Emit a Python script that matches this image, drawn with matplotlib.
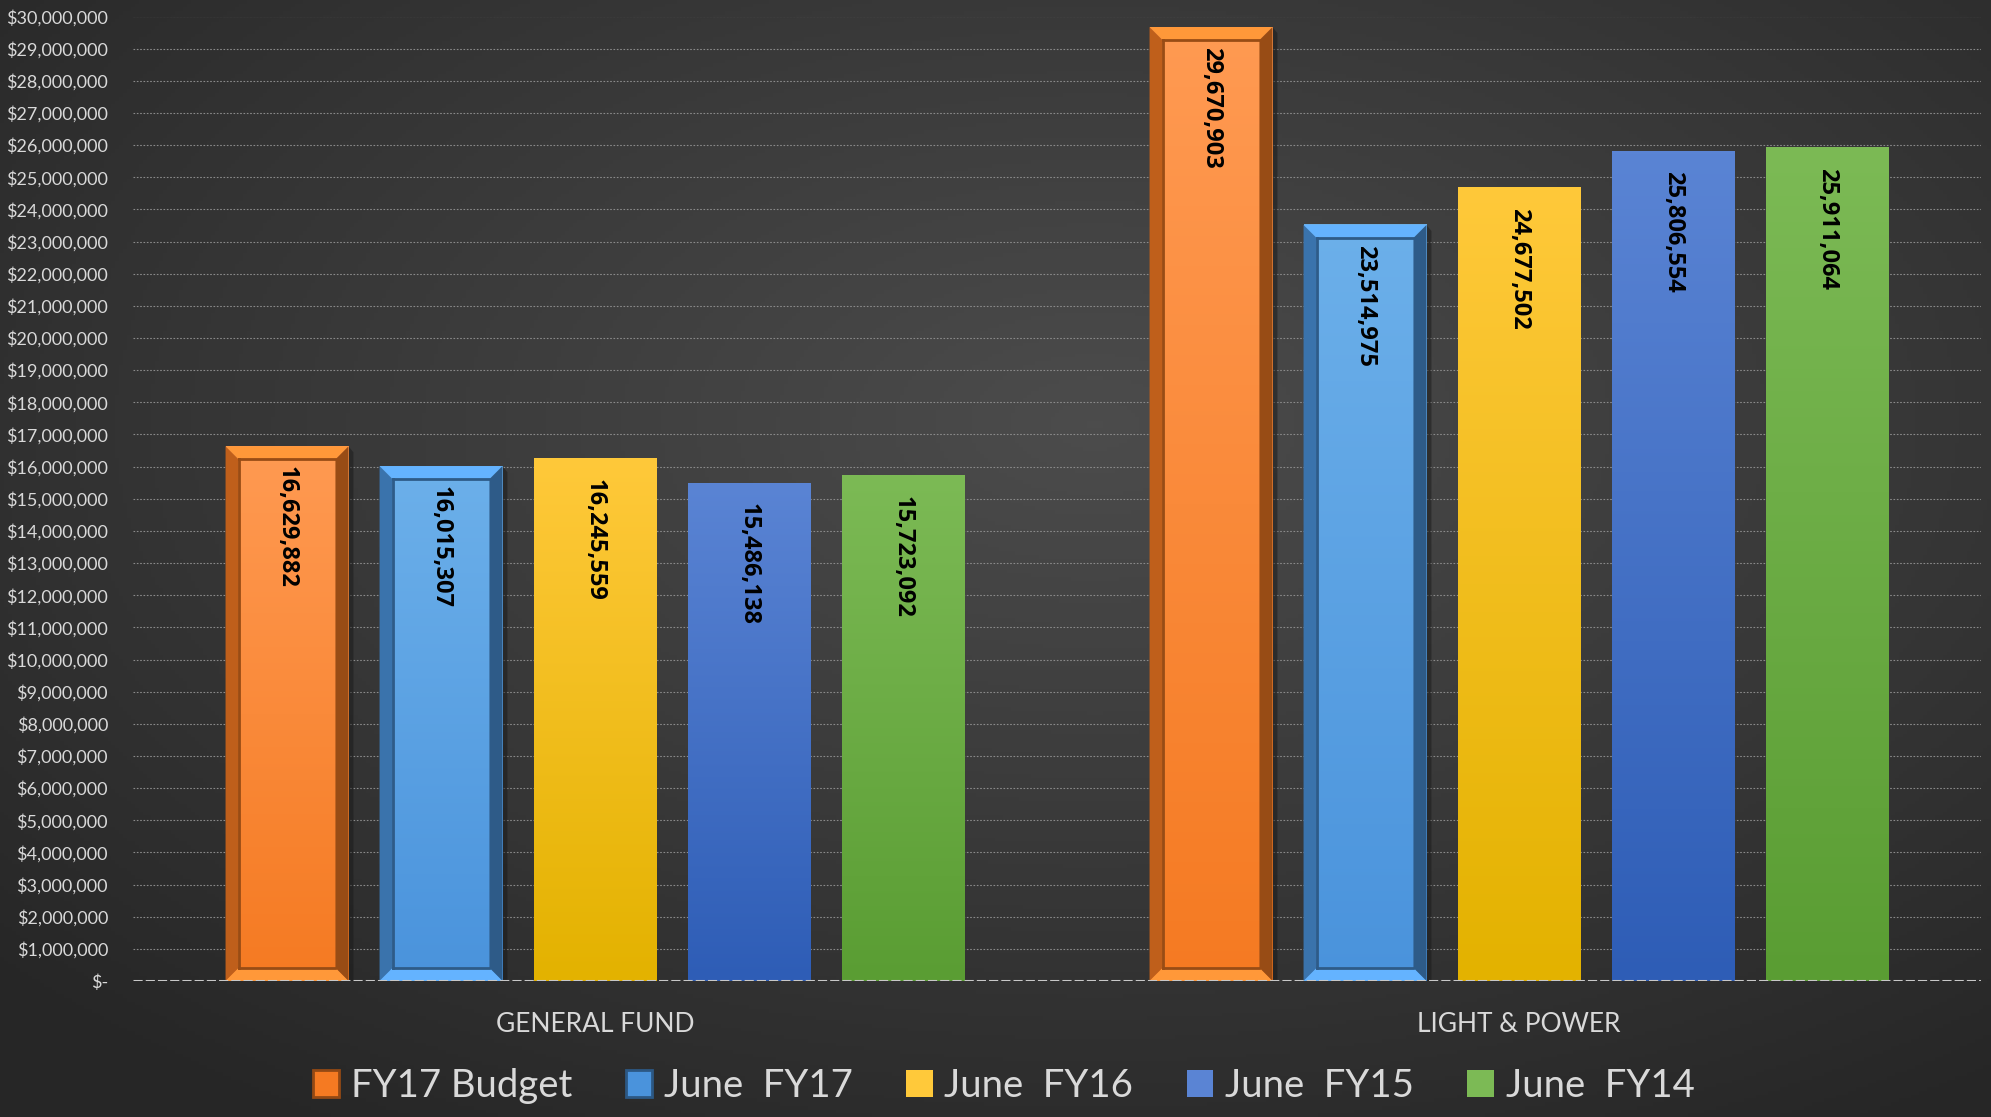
import numpy as np
import matplotlib
matplotlib.use("Agg")
import matplotlib.pyplot as plt
from matplotlib.colors import LinearSegmentedColormap
from matplotlib.patches import Patch, Polygon
from matplotlib.ticker import FuncFormatter, MultipleLocator

plt.rcParams['font.family'] = ['Lato', 'DejaVu Sans']

categories = ['GENERAL FUND', 'LIGHT & POWER']
series = ['FY17 Budget', 'June  FY17', 'June  FY16', 'June  FY15', 'June  FY14']
fy17_budget = [16629882, 29670903]
june_fy17 = [16015307, 23514975]
june_fy16 = [16245559, 24677502]
june_fy15 = [15486138, 25806554]
june_fy14 = [15723092, 25911064]
values = [fy17_budget, june_fy17, june_fy16, june_fy15, june_fy14]

# (top colour, bottom colour, bevelled?)
styles = [
    ('#ff9a52', '#f57a22', True),
    ('#6cb0ea', '#4a93dc', True),
    ('#ffc93a', '#e3b200', False),
    ('#5a84d4', '#2e5db6', False),
    ('#7cba55', '#5a9d33', False),
]

W, H = 1991, 1117
fig = plt.figure(figsize=(W / 100, H / 100), dpi=100)

# dark radial background
bg = fig.add_axes([0, 0, 1, 1], zorder=-10)
yy, xx = np.mgrid[0:1:300j, 0:1:500j]
r = np.sqrt(((xx - 0.55) / 0.75) ** 2 + ((yy - 0.62) / 0.75) ** 2)
bgcmap = LinearSegmentedColormap.from_list('bg', ['#4c4c4c', '#262626'])
bg.imshow(np.clip(r, 0, 1), cmap=bgcmap, aspect='auto', extent=[0, 1, 0, 1], origin='lower')
bg.axis('off')

ax_l, ax_r, ax_t, ax_b = 133, 1981, 16.5, 981
ax = fig.add_axes([ax_l / W, (H - ax_b) / H, (ax_r - ax_l) / W, (ax_b - ax_t) / H])
ax.patch.set_alpha(0)
ymax = 30000000
ax.set_xlim(-0.5, 1.5)
ax.set_ylim(0, ymax)

step = 1 / 6
width = 0.133
x = np.arange(len(categories))

# pixel -> data conversion for bevels
px_x = 2 / (ax_r - ax_l)
px_y = ymax / (ax_b - ax_t)
bev = 13

for i, (vals, (top, bot, bevel)) in enumerate(zip(values, styles)):
    pos = x + (i - 2) * step
    bars = ax.bar(pos, vals, width, color=bot, zorder=3, label=series[i])
    cmap = LinearSegmentedColormap.from_list('g%d' % i, [bot, top])
    for rect, v in zip(bars, vals):
        x0, w, h = rect.get_x(), rect.get_width(), rect.get_height()
        grad = np.linspace(0, 1, 256).reshape(-1, 1)
        ax.imshow(grad, extent=[x0, x0 + w, 0, h], aspect='auto', cmap=cmap,
                  origin='lower', zorder=3.1)
        if bevel:
            dx, dy = bev * px_x, bev * px_y
            # drop shadow on the right
            ax.add_patch(Polygon([(x0 + w, 0), (x0 + w + 5 * px_x, 0),
                                  (x0 + w + 5 * px_x, h - 6 * px_y), (x0 + w, h)],
                                 closed=True, facecolor='#1a1a1a', alpha=0.5,
                                 edgecolor='none', zorder=2.9))
            base = np.array(matplotlib.colors.to_rgb(bot))
            light = np.clip(base * 1.08 + 0.08, 0, 1)
            dark = base * 0.62
            mid = base * 0.78
            sides = [
                ([(x0, h), (x0 + w, h), (x0 + w - dx, h - dy), (x0 + dx, h - dy)], light),
                ([(x0, 0), (x0 + dx, dy), (x0 + dx, h - dy), (x0, h)], mid),
                ([(x0 + w, 0), (x0 + w, h), (x0 + w - dx, h - dy), (x0 + w - dx, dy)], dark),
                ([(x0, 0), (x0 + w, 0), (x0 + w - dx, dy), (x0 + dx, dy)], light),
            ]
            for pts, c in sides:
                ax.add_patch(Polygon(pts, closed=True, facecolor=c, edgecolor='none', zorder=3.2))
            # inner shadow lines
            ax.plot([x0 + dx, x0 + w - dx], [h - dy, h - dy], color=dark, lw=2, zorder=3.3)
            ax.plot([x0 + dx, x0 + dx], [dy, h - dy], color=dark, lw=2, zorder=3.3)
            ax.plot([x0 + dx, x0 + w - dx], [dy, dy], color=dark, lw=2, zorder=3.3)
        ax.annotate(f"{v:,}", (rect.get_x() + w / 2, h), xytext=(0, -20),
                    textcoords='offset pixels', rotation=-90, ha='center', va='top',
                    fontsize=17, fontweight='bold', family=['Open Sans', 'DejaVu Sans'],
                    color='black', zorder=5)

ax.set_xlim(-0.5, 1.5)
ax.set_ylim(0, ymax)

ax.yaxis.set_major_locator(MultipleLocator(1000000))
ax.yaxis.set_major_formatter(FuncFormatter(lambda v, p: '$-' if v == 0 else f"${v:,.0f}"))
ax.tick_params(axis='y', colors='#d9d9d9', labelsize=13, length=0, pad=18)
ax.set_xticks(x)
ax.set_xticklabels(categories)
ax.tick_params(axis='x', colors='#d9d9d9', labelsize=19, length=0, pad=22)
ax.yaxis.grid(True, color='#8a8a8a', linestyle=(0, (1.5, 1.5)), linewidth=0.8)
ax.set_axisbelow(True)
for s in ax.spines.values():
    s.set_visible(False)
ax.axhline(0, color='#c8c8c8', lw=2.2, linestyle=(0, (3, 1)), zorder=4)
ax.axhline(ymax, color='#5f5f5f', lw=1.5, zorder=1)

handles = []
for (top, bot, bevel), name in zip(styles, series):
    ec = np.array(matplotlib.colors.to_rgb(bot)) * 0.6 if bevel else 'none'
    handles.append(Patch(facecolor=top if not bevel else bot, edgecolor=ec, linewidth=2, label=name))
fig.legend(handles=handles, loc='center', bbox_to_anchor=(0.504, 0.028), ncol=5,
           frameon=False, fontsize=27.5, labelcolor='#d9d9d9', handlelength=0.7,
           handleheight=0.7, handletextpad=0.3, columnspacing=1.4)

fig.savefig('out.png', dpi=100, facecolor='#2b2b2b')
